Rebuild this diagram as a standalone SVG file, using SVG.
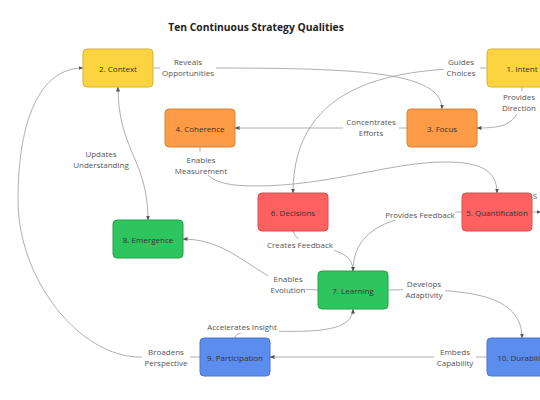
<svg xmlns="http://www.w3.org/2000/svg" width="540" height="400" viewBox="0 0 540 400">
<style>
.title{font-family:"Open Sans","Noto Sans","Liberation Sans",sans-serif;font-size:10.3px;font-weight:bold;fill:#222}
.node rect{stroke-width:1}
.nt{font-family:"Open Sans","Noto Sans","Liberation Sans",sans-serif;font-size:8px;fill:#333;text-anchor:middle;dominant-baseline:central}
.lbl{font-family:"Open Sans","Noto Sans","Liberation Sans",sans-serif;font-size:8px;fill:#555;text-anchor:middle}
.e{fill:none;stroke:#9a9a9a;stroke-width:0.8;marker-end:url(#ah)}
.lb{fill:#fff}
.y{fill:#FCD440;stroke:#D9B234}
.o{fill:#FD9B46;stroke:#D8803A}
.r{fill:#FF6161;stroke:#D94E4E}
.g{fill:#2EC55E;stroke:#22A24B}
.b{fill:#5B8DEF;stroke:#4A76CC}
</style>
<defs>
<marker id="ah" viewBox="0 0 10 10" refX="9" refY="5" markerWidth="5" markerHeight="5" orient="auto-start-reverse" markerUnits="userSpaceOnUse">
<path d="M0,1 L10,5 L0,9 z" fill="#555"/>
</marker>
</defs>
<rect width="540" height="400" fill="#fff"/>
<text class="title" x="256" y="31" text-anchor="middle">Ten Continuous Strategy Qualities</text>

<g id="connectors">
<path class="e" d="M153,68 C330,68 442,66 442,109"/>
<path class="e" d="M487,68 C400,68 293,80 293,193"/>
<path class="e" d="M522,87 C522,125 505,128 477,128"/>
<path class="e" d="M407,128 L235,128"/>
<path class="e" d="M200,147 C200,172 205,186 255,186 C330,186 390,162 445,162 C480,162 497,170 497,193"/>
<path class="e" d="M462,212 C400,212 353,225 353,271"/>
<path class="e" d="M293,231 C300,255 353,240 353,271"/>
<path class="e" d="M318,290 C260,290 240,239 183,239"/>
<path class="e" d="M388,290 C470,288 522,295 522,338"/>
<path class="e" d="M487,357 L270,357"/>
<path class="e" d="M235,338 C235,320 353,348 353,309"/>
<path class="e" d="M200,357 L140,357 C80,357 18,280 18,200 C18,120 40,68 83,68"/>
<path class="e" d="M118,87 C118,150 148,160 148,220" marker-start="url(#ah)"/>
<path class="e" d="M532,212 L541,212" marker-end="none"/>

<rect class="lb" x="160" y="55" width="56" height="23"/>
<text class="lbl" x="188" y="65">Reveals</text><text class="lbl" x="188" y="76">Opportunities</text>
<rect class="lb" x="444" y="55" width="36" height="23"/>
<text class="lbl" x="461" y="65">Guides</text><text class="lbl" x="461" y="76">Choices</text>
<rect class="lb" x="500" y="91" width="38" height="23"/>
<text class="lbl" x="519" y="100">Provides</text><text class="lbl" x="519" y="111">Direction</text>
<rect class="lb" x="343" y="116" width="56" height="23"/>
<text class="lbl" x="371" y="125">Concentrates</text><text class="lbl" x="371" y="136">Efforts</text>
<rect class="lb" x="174" y="152" width="54" height="23"/>
<text class="lbl" x="201" y="163">Enables</text><text class="lbl" x="201" y="174">Measurement</text>
<rect class="lb" x="385" y="208" width="70" height="12"/>
<text class="lbl" x="420" y="218">Provides Feedback</text>
<rect class="lb" x="266" y="239" width="68" height="12"/>
<text class="lbl" x="300" y="248">Creates Feedback</text>
<rect class="lb" x="268" y="272" width="38" height="23"/>
<text class="lbl" x="288" y="282">Enables</text><text class="lbl" x="288" y="293">Evolution</text>
<rect class="lb" x="403" y="277" width="42" height="23"/>
<text class="lbl" x="424" y="287">Develops</text><text class="lbl" x="424" y="298">Adaptivity</text>
<rect class="lb" x="434" y="345" width="42" height="23"/>
<text class="lbl" x="455" y="355">Embeds</text><text class="lbl" x="455" y="366">Capability</text>
<rect class="lb" x="205" y="321" width="74" height="12"/>
<text class="lbl" x="242" y="330">Accelerates Insight</text>
<rect class="lb" x="142" y="345" width="48" height="23"/>
<text class="lbl" x="166" y="355">Broadens</text><text class="lbl" x="166" y="366">Perspective</text>
<text class="lbl" x="101" y="157">Updates</text><text class="lbl" x="101" y="168">Understanding</text>
<text class="lbl" x="535" y="199" text-anchor="start">S</text>
</g>

<g id="n1" class="node"><rect class="y" x="487" y="49" width="70" height="38" rx="4"/><text class="nt" x="522" y="68">1. Intent</text></g>
<g id="n2" class="node"><rect class="y" x="83" y="49" width="70" height="38" rx="4"/><text class="nt" x="118" y="68">2. Context</text></g>
<g id="n3" class="node"><rect class="o" x="407" y="109" width="70" height="38" rx="4"/><text class="nt" x="442" y="128">3. Focus</text></g>
<g id="n4" class="node"><rect class="o" x="165" y="109" width="70" height="38" rx="4"/><text class="nt" x="200" y="128">4. Coherence</text></g>
<g id="n5" class="node"><rect class="r" x="462" y="193" width="70" height="38" rx="4"/><text class="nt" x="497" y="212">5. Quantification</text></g>
<g id="n6" class="node"><rect class="r" x="258" y="193" width="70" height="38" rx="4"/><text class="nt" x="293" y="212">6. Decisions</text></g>
<g id="n7" class="node"><rect class="g" x="318" y="271" width="70" height="38" rx="4"/><text class="nt" x="353" y="290">7. Learning</text></g>
<g id="n8" class="node"><rect class="g" x="113" y="220" width="70" height="38" rx="4"/><text class="nt" x="148" y="239">8. Emergence</text></g>
<g id="n9" class="node"><rect class="b" x="200" y="338" width="70" height="38" rx="4"/><text class="nt" x="235" y="357">9. Participation</text></g>
<g id="n10" class="node"><rect class="b" x="487" y="338" width="70" height="38" rx="4"/><text class="nt" x="522" y="357">10. Durability</text></g>
</svg>
